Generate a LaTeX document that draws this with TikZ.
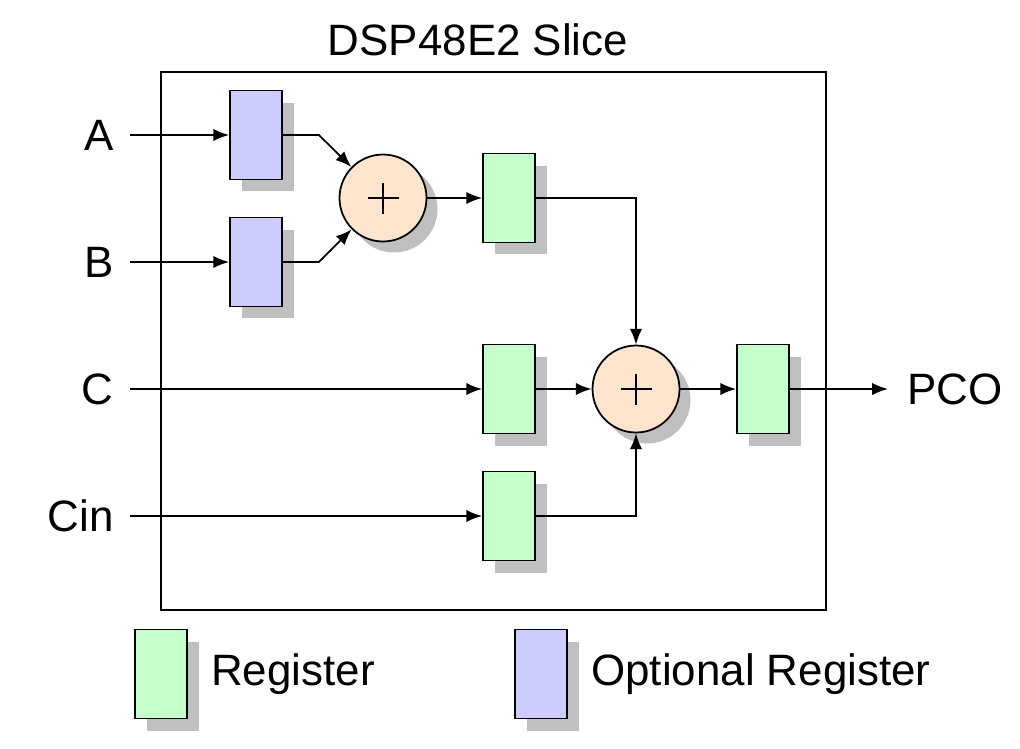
\documentclass[tikz,border=0pt]{standalone}
\usepackage{fontspec}
\setmainfont{Liberation Sans}
\usetikzlibrary{arrows.meta, positioning, shadows}
\definecolor{regGreen}{RGB}{196,255,204}
\definecolor{optBlue}{RGB}{204,204,255}
\definecolor{addOrange}{RGB}{255,229,206}
\tikzstyle{box} = [draw, line width=1pt, minimum width=1.04cm, minimum height=1.78cm, inner sep=0pt, drop shadow={shadow xshift=0.24cm, shadow yshift=-0.24cm, fill=black!25, opacity=1}]
\tikzstyle{reg} = [box, fill=regGreen]
\tikzstyle{optreg} = [box, fill=optBlue]
\tikzstyle{adder} = [draw, line width=1pt, circle, minimum size=1.74cm, inner sep=0pt, fill=addOrange, drop shadow={shadow xshift=0.22cm, shadow yshift=-0.22cm, fill=black!25, opacity=1}, path picture={\draw [line width=0.7pt] ([xshift=-0.31cm]path picture bounding box.center) -- ([xshift=0.31cm]path picture bounding box.center); \draw [line width=0.7pt] ([yshift=-0.31cm]path picture bounding box.center) -- ([yshift=0.31cm]path picture bounding box.center);}]
\tikzstyle{lbl} = [font=\fontsize{25}{30}\selectfont, inner sep=0pt]
\tikzstyle{path} = [-{Latex[length=9pt, width=7pt]}, line width=1pt]

\begin{document}
\begin{tikzpicture}[x=0.02cm, y=-0.02cm]
    \useasboundingbox (0,0) rectangle (1020,748);

    \node (slice) [draw, line width=1pt, minimum width=13.3cm, minimum height=10.76cm] at (493.5,341) {};
    \node (title) [lbl] at (478,40) {DSP48E2 Slice};

    \node (regA) [optreg] at (256,135) {};
    \node (regB) [optreg] at (256,262) {};
    \node (add1) [adder] at (383,198) {};
    \node (regS) [reg] at (509,198) {};
    \node (regC) [reg] at (509,389) {};
    \node (regCin) [reg] at (509,516) {};
    \node (add2) [adder] at (636,389) {};
    \node (regP) [reg] at (763,389) {};

    % Inputs and output.
    \foreach \n/\y in {A/135, B/262, C/389, Cin/516} {%
        \coordinate (in \n) at (130,\y);
        \node (lbl \n) [lbl, left=0.32cm of in \n] {\n};
    }
    \coordinate (out) at (888,389);
    \node (lbl out) [lbl, right=0.38cm of out] {PCO};

    % Arrows.
    \foreach \n/\r in {A/regA, B/regB, C/regC, Cin/regCin}
        \draw [path] (in \n) -- (\r);
    \foreach \r in {regA, regB}
        \draw [path] (\r.east) -- +(36,0) -- (add1);
    \draw [path] (add1) -- (regS);
    \draw [path] (regS.east) -| (add2.north);
    \draw [path] (regC) -- (add2);
    \draw [path] (regCin.east) -| (add2.south);
    \draw [path] (add2) -- (regP);
    \draw [path] (regP) -- (out);

    % Legend.
    \node (leg reg) [reg] at (161,674) {};
    \node (leg reg txt) [lbl, right=0.46cm of leg reg] {Register};
    \node (leg opt) [optreg] at (541,674) {};
    \node (leg opt txt) [lbl, right=0.46cm of leg opt] {Optional Register};
\end{tikzpicture}
\end{document}
